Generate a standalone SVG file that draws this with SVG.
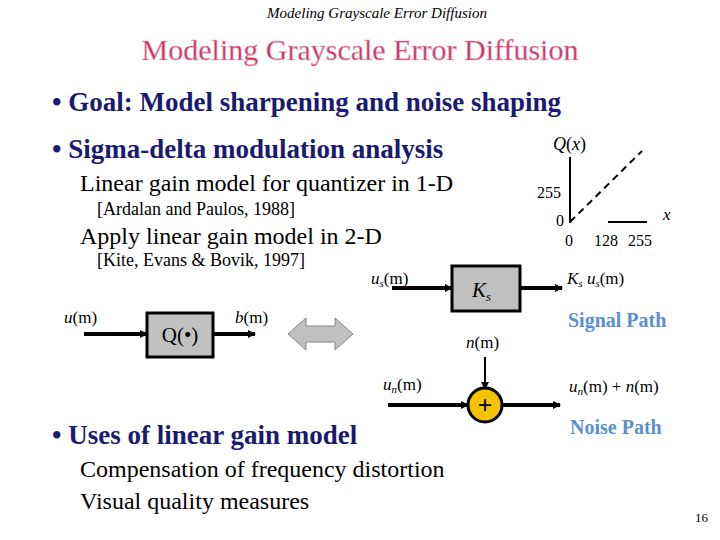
<svg xmlns="http://www.w3.org/2000/svg" width="720" height="540" viewBox="0 0 720 540" font-family="'Liberation Serif', 'Times New Roman', 'DejaVu Serif', serif">
<defs>
<marker id="ah" markerWidth="8" markerHeight="8" refX="7" refY="4" orient="auto" markerUnits="userSpaceOnUse"><path d="M0,0 L8,4 L0,8 Z" fill="#000"/></marker>
<style>
text{font-family:'Liberation Serif','Times New Roman','DejaVu Serif',serif;fill:#000}
.b{font-weight:bold;fill:#1a1a70;font-size:27px}
.s{font-size:24px}
.r{font-size:18px}
.d{font-size:17px}
.p{font-weight:bold;fill:#5b8fd0;font-size:20px}
.box{fill:#c0c0c0;stroke:#000;stroke-width:3}
.w{stroke:#000;stroke-width:4;fill:none}
</style>
</defs>
<rect width="720" height="540" fill="#fff"/>
<text x="377" y="18" font-size="15" font-style="italic" text-anchor="middle">Modeling Grayscale Error Diffusion</text>
<text x="360" y="60" font-size="30" text-anchor="middle" style="fill:#c8306a;stroke:#e8b0c0;stroke-width:0.6">Modeling Grayscale Error Diffusion</text>
<text x="52" y="111" class="b">•  Goal: Model sharpening and noise shaping</text>
<text x="52" y="158" class="b">•  Sigma-delta modulation analysis</text>
<text x="80" y="191" class="s">Linear gain model for quantizer in 1-D</text>
<text x="97" y="215" class="r">[Ardalan and Paulos, 1988]</text>
<text x="80" y="244" class="s">Apply linear gain model in 2-D</text>
<text x="97" y="266" class="r">[Kite, Evans &amp; Bovik, 1997]</text>
<text x="52" y="444" class="b">•  Uses of linear gain model</text>
<text x="80" y="477" class="s">Compensation of frequency distortion</text>
<text x="80" y="509" class="s">Visual quality measures</text>
<text x="708" y="522" font-size="13" text-anchor="end">16</text>
<g id="plot">
<line x1="570" y1="157" x2="570" y2="223" stroke="#000" stroke-width="2"/>
<line x1="570" y1="222" x2="642" y2="151" stroke="#000" stroke-width="2" stroke-dasharray="7,5"/>
<line x1="608" y1="222" x2="647" y2="222" stroke="#000" stroke-width="2"/>
<text x="553" y="150" font-size="18"><tspan font-style="italic">Q</tspan>(<tspan font-style="italic">x</tspan>)</text>
<text x="537" y="198" font-size="16">255</text>
<text x="556" y="226" font-size="16">0</text>
<text x="663" y="220" font-size="17" font-style="italic">x</text>
<text x="565" y="246" font-size="16">0</text>
<text x="594" y="246" font-size="16">128</text>
<text x="628" y="246" font-size="16">255</text>
</g>
<g id="connectors">
<line x1="84" y1="334" x2="147" y2="334" class="w" marker-end="url(#ah)"/>
<line x1="213" y1="334" x2="255" y2="334" class="w" marker-end="url(#ah)"/>
<line x1="392" y1="288" x2="452" y2="288" class="w" marker-end="url(#ah)"/>
<line x1="520" y1="288" x2="562" y2="288" class="w" marker-end="url(#ah)"/>
<line x1="485" y1="357" x2="485" y2="389" stroke="#000" stroke-width="2" marker-end="url(#ah)"/>
<line x1="388" y1="405" x2="468" y2="405" class="w" marker-end="url(#ah)"/>
<line x1="503" y1="405" x2="560" y2="405" class="w" marker-end="url(#ah)"/>
</g>
<g id="q">
<rect x="147" y="313" width="66" height="44" class="box"/>
<text x="180" y="342" font-size="21" text-anchor="middle">Q(•)</text>
<text x="64" y="323" class="d"><tspan font-style="italic">u</tspan>(m)</text>
<text x="235" y="323" class="d"><tspan font-style="italic">b</tspan>(m)</text>
</g>
<g id="dbl">
<path d="M288,334 L306,318 L306,326 L335,326 L335,318 L353,334 L335,350 L335,342 L306,342 L306,350 Z" fill="#c0c0c0" stroke="#888" stroke-width="1"/>
</g>
<g id="ks">
<rect x="452" y="266" width="68" height="45" class="box"/>
<text x="472" y="297" font-size="21" font-style="italic">K<tspan font-size="13" dy="4">s</tspan></text>
<text x="371" y="284" class="d"><tspan font-style="italic">u<tspan font-size="11" dy="3">s</tspan></tspan><tspan dy="-3">(m)</tspan></text>
<text x="567" y="284" class="d"><tspan font-style="italic">K<tspan font-size="11" dy="3">s</tspan></tspan><tspan dy="-3"> </tspan><tspan font-style="italic">u<tspan font-size="11" dy="3">s</tspan></tspan><tspan dy="-3">(m)</tspan></text>
<text x="568" y="327" class="p">Signal Path</text>
</g>
<g id="sum">
<circle cx="485" cy="405" r="17" fill="#f5c400" stroke="#000" stroke-width="3"/>
<text x="485" y="414" font-size="26" font-weight="bold" text-anchor="middle">+</text>
<text x="466" y="348" class="d"><tspan font-style="italic">n</tspan>(m)</text>
<text x="383" y="390" class="d"><tspan font-style="italic">u<tspan font-size="11" dy="3">n</tspan></tspan><tspan dy="-3">(m)</tspan></text>
<text x="569" y="392" class="d"><tspan font-style="italic">u<tspan font-size="11" dy="3">n</tspan></tspan><tspan dy="-3">(m) + </tspan><tspan font-style="italic">n</tspan>(m)</text>
<text x="570" y="434" class="p">Noise Path</text>
</g>
</svg>
